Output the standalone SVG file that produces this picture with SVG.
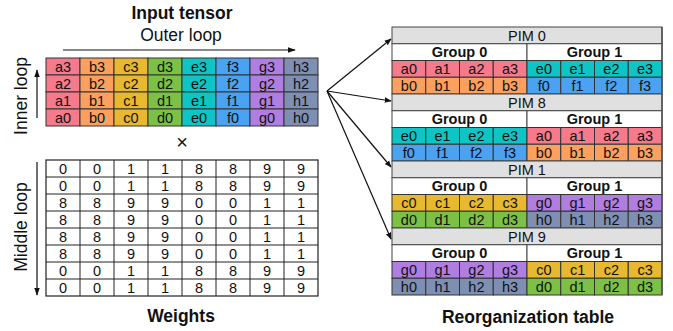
<svg xmlns="http://www.w3.org/2000/svg" width="673" height="331" viewBox="0 0 673 331">
<defs>
<style>
text{font-family:"Liberation Sans",Arial,sans-serif;fill:#111;text-anchor:middle}
.c{font-size:14.5px}
.t{font-size:17.5px;font-weight:bold}
.l{font-size:17.5px}
.g{font-size:14.5px;font-weight:bold}
.cell{stroke:#333;stroke-width:1}
.A{fill:#f47a8c}.B{fill:#fba05e}.C{fill:#e8b830}.D{fill:#7cc145}.E{fill:#0ec4c4}.F{fill:#4aa2f0}.G{fill:#b07ee0}.H{fill:#7f8fb2}
.hd{fill:#e0e0e0;stroke:#444;stroke-width:1}
.wh{fill:#fff;stroke:#444;stroke-width:1}
.ln{stroke:#111;stroke-width:1.2;fill:none}
</style>
<marker id="ah" viewBox="0 0 10 10" refX="9" refY="5" markerWidth="7" markerHeight="7" orient="auto" markerUnits="userSpaceOnUse"><path d="M0,1 L10,5 L0,9 Z" fill="#111"/></marker>
<marker id="ah2" viewBox="0 0 10 10" refX="9" refY="5" markerWidth="8" markerHeight="8" orient="auto" markerUnits="userSpaceOnUse"><path d="M0,1.5 L10,5 L0,8.5 Z" fill="#111"/></marker>
</defs>
<rect width="673" height="331" fill="#fff"/>

<g id="labels">
<text class="t" x="182" y="19">Input tensor</text>
<text class="l" x="181" y="41">Outer loop</text>
<text class="l" transform="translate(27,96) rotate(-90)">Inner loop</text>
<text class="l" transform="translate(27,227) rotate(-90)">Middle loop</text>
<text x="182" y="149" style="font-size:20px">×</text>
<text class="t" x="181" y="322">Weights</text>
<text class="t" x="528" y="323">Reorganization table</text>
</g>

<g id="input-tensor">
<g class="cell">
<rect class="A" x="46" y="58" width="34" height="17"/><rect class="B" x="80" y="58" width="34" height="17"/><rect class="C" x="114" y="58" width="34" height="17"/><rect class="D" x="148" y="58" width="34" height="17"/><rect class="E" x="182" y="58" width="34" height="17"/><rect class="F" x="216" y="58" width="34" height="17"/><rect class="G" x="250" y="58" width="34" height="17"/><rect class="H" x="284" y="58" width="34" height="17"/>
<rect class="A" x="46" y="75" width="34" height="17"/><rect class="B" x="80" y="75" width="34" height="17"/><rect class="C" x="114" y="75" width="34" height="17"/><rect class="D" x="148" y="75" width="34" height="17"/><rect class="E" x="182" y="75" width="34" height="17"/><rect class="F" x="216" y="75" width="34" height="17"/><rect class="G" x="250" y="75" width="34" height="17"/><rect class="H" x="284" y="75" width="34" height="17"/>
<rect class="A" x="46" y="92" width="34" height="17"/><rect class="B" x="80" y="92" width="34" height="17"/><rect class="C" x="114" y="92" width="34" height="17"/><rect class="D" x="148" y="92" width="34" height="17"/><rect class="E" x="182" y="92" width="34" height="17"/><rect class="F" x="216" y="92" width="34" height="17"/><rect class="G" x="250" y="92" width="34" height="17"/><rect class="H" x="284" y="92" width="34" height="17"/>
<rect class="A" x="46" y="109" width="34" height="17"/><rect class="B" x="80" y="109" width="34" height="17"/><rect class="C" x="114" y="109" width="34" height="17"/><rect class="D" x="148" y="109" width="34" height="17"/><rect class="E" x="182" y="109" width="34" height="17"/><rect class="F" x="216" y="109" width="34" height="17"/><rect class="G" x="250" y="109" width="34" height="17"/><rect class="H" x="284" y="109" width="34" height="17"/>
</g>
<g class="c">
<text x="63" y="71.5">a3</text><text x="97" y="71.5">b3</text><text x="131" y="71.5">c3</text><text x="165" y="71.5">d3</text><text x="199" y="71.5">e3</text><text x="233" y="71.5">f3</text><text x="267" y="71.5">g3</text><text x="301" y="71.5">h3</text>
<text x="63" y="88.5">a2</text><text x="97" y="88.5">b2</text><text x="131" y="88.5">c2</text><text x="165" y="88.5">d2</text><text x="199" y="88.5">e2</text><text x="233" y="88.5">f2</text><text x="267" y="88.5">g2</text><text x="301" y="88.5">h2</text>
<text x="63" y="105.5">a1</text><text x="97" y="105.5">b1</text><text x="131" y="105.5">c1</text><text x="165" y="105.5">d1</text><text x="199" y="105.5">e1</text><text x="233" y="105.5">f1</text><text x="267" y="105.5">g1</text><text x="301" y="105.5">h1</text>
<text x="63" y="122.5">a0</text><text x="97" y="122.5">b0</text><text x="131" y="122.5">c0</text><text x="165" y="122.5">d0</text><text x="199" y="122.5">e0</text><text x="233" y="122.5">f0</text><text x="267" y="122.5">g0</text><text x="301" y="122.5">h0</text>
</g>
</g>

<g id="weights">
<rect x="46" y="160" width="272" height="136" fill="#fff" stroke="#222" stroke-width="1.2"/>
<g stroke="#222" stroke-width="1">
<path d="M80,160V296M114,160V296M148,160V296M182,160V296M216,160V296M250,160V296M284,160V296"/>
<path d="M46,177H318M46,194H318M46,211H318M46,228H318M46,245H318M46,262H318M46,279H318"/>
</g>
<g class="c">
<text x="63" y="173.5">0</text><text x="97" y="173.5">0</text><text x="131" y="173.5">1</text><text x="165" y="173.5">1</text><text x="199" y="173.5">8</text><text x="233" y="173.5">8</text><text x="267" y="173.5">9</text><text x="301" y="173.5">9</text>
<text x="63" y="190.5">0</text><text x="97" y="190.5">0</text><text x="131" y="190.5">1</text><text x="165" y="190.5">1</text><text x="199" y="190.5">8</text><text x="233" y="190.5">8</text><text x="267" y="190.5">9</text><text x="301" y="190.5">9</text>
<text x="63" y="207.5">8</text><text x="97" y="207.5">8</text><text x="131" y="207.5">9</text><text x="165" y="207.5">9</text><text x="199" y="207.5">0</text><text x="233" y="207.5">0</text><text x="267" y="207.5">1</text><text x="301" y="207.5">1</text>
<text x="63" y="224.5">8</text><text x="97" y="224.5">8</text><text x="131" y="224.5">9</text><text x="165" y="224.5">9</text><text x="199" y="224.5">0</text><text x="233" y="224.5">0</text><text x="267" y="224.5">1</text><text x="301" y="224.5">1</text>
<text x="63" y="241.5">8</text><text x="97" y="241.5">8</text><text x="131" y="241.5">9</text><text x="165" y="241.5">9</text><text x="199" y="241.5">0</text><text x="233" y="241.5">0</text><text x="267" y="241.5">1</text><text x="301" y="241.5">1</text>
<text x="63" y="258.5">8</text><text x="97" y="258.5">8</text><text x="131" y="258.5">9</text><text x="165" y="258.5">9</text><text x="199" y="258.5">0</text><text x="233" y="258.5">0</text><text x="267" y="258.5">1</text><text x="301" y="258.5">1</text>
<text x="63" y="275.5">0</text><text x="97" y="275.5">0</text><text x="131" y="275.5">1</text><text x="165" y="275.5">1</text><text x="199" y="275.5">8</text><text x="233" y="275.5">8</text><text x="267" y="275.5">9</text><text x="301" y="275.5">9</text>
<text x="63" y="292.5">0</text><text x="97" y="292.5">0</text><text x="131" y="292.5">1</text><text x="165" y="292.5">1</text><text x="199" y="292.5">8</text><text x="233" y="292.5">8</text><text x="267" y="292.5">9</text><text x="301" y="292.5">9</text>
</g>
</g>

<g id="pim0" transform="translate(392,27)">
<rect class="hd" x="0" y="0" width="270" height="16.75"/>
<text class="c" x="135" y="13.5">PIM 0</text>
<rect class="wh" x="0" y="16.75" width="135" height="16.75"/><rect class="wh" x="135" y="16.75" width="135" height="16.75"/>
<text class="g" x="67.5" y="30">Group 0</text><text class="g" x="202.5" y="30">Group 1</text>
<g class="cell">
<rect class="A" x="0" y="33.5" width="33.75" height="16.75"/><rect class="A" x="33.75" y="33.5" width="33.75" height="16.75"/><rect class="A" x="67.5" y="33.5" width="33.75" height="16.75"/><rect class="A" x="101.25" y="33.5" width="33.75" height="16.75"/>
<rect class="E" x="135" y="33.5" width="33.75" height="16.75"/><rect class="E" x="168.75" y="33.5" width="33.75" height="16.75"/><rect class="E" x="202.5" y="33.5" width="33.75" height="16.75"/><rect class="E" x="236.25" y="33.5" width="33.75" height="16.75"/>
<rect class="B" x="0" y="50.25" width="33.75" height="16.75"/><rect class="B" x="33.75" y="50.25" width="33.75" height="16.75"/><rect class="B" x="67.5" y="50.25" width="33.75" height="16.75"/><rect class="B" x="101.25" y="50.25" width="33.75" height="16.75"/>
<rect class="F" x="135" y="50.25" width="33.75" height="16.75"/><rect class="F" x="168.75" y="50.25" width="33.75" height="16.75"/><rect class="F" x="202.5" y="50.25" width="33.75" height="16.75"/><rect class="F" x="236.25" y="50.25" width="33.75" height="16.75"/>
</g>
<g class="c">
<text x="16.9" y="47">a0</text><text x="50.6" y="47">a1</text><text x="84.4" y="47">a2</text><text x="118.1" y="47">a3</text><text x="151.9" y="47">e0</text><text x="185.6" y="47">e1</text><text x="219.4" y="47">e2</text><text x="253.1" y="47">e3</text>
<text x="16.9" y="63.75">b0</text><text x="50.6" y="63.75">b1</text><text x="84.4" y="63.75">b2</text><text x="118.1" y="63.75">b3</text><text x="151.9" y="63.75">f0</text><text x="185.6" y="63.75">f1</text><text x="219.4" y="63.75">f2</text><text x="253.1" y="63.75">f3</text>
</g>
</g>

<g id="pim8" transform="translate(392,94)">
<rect class="hd" x="0" y="0" width="270" height="16.75"/>
<text class="c" x="135" y="13.5">PIM 8</text>
<rect class="wh" x="0" y="16.75" width="135" height="16.75"/><rect class="wh" x="135" y="16.75" width="135" height="16.75"/>
<text class="g" x="67.5" y="30">Group 0</text><text class="g" x="202.5" y="30">Group 1</text>
<g class="cell">
<rect class="E" x="0" y="33.5" width="33.75" height="16.75"/><rect class="E" x="33.75" y="33.5" width="33.75" height="16.75"/><rect class="E" x="67.5" y="33.5" width="33.75" height="16.75"/><rect class="E" x="101.25" y="33.5" width="33.75" height="16.75"/>
<rect class="A" x="135" y="33.5" width="33.75" height="16.75"/><rect class="A" x="168.75" y="33.5" width="33.75" height="16.75"/><rect class="A" x="202.5" y="33.5" width="33.75" height="16.75"/><rect class="A" x="236.25" y="33.5" width="33.75" height="16.75"/>
<rect class="F" x="0" y="50.25" width="33.75" height="16.75"/><rect class="F" x="33.75" y="50.25" width="33.75" height="16.75"/><rect class="F" x="67.5" y="50.25" width="33.75" height="16.75"/><rect class="F" x="101.25" y="50.25" width="33.75" height="16.75"/>
<rect class="B" x="135" y="50.25" width="33.75" height="16.75"/><rect class="B" x="168.75" y="50.25" width="33.75" height="16.75"/><rect class="B" x="202.5" y="50.25" width="33.75" height="16.75"/><rect class="B" x="236.25" y="50.25" width="33.75" height="16.75"/>
</g>
<g class="c">
<text x="16.9" y="47">e0</text><text x="50.6" y="47">e1</text><text x="84.4" y="47">e2</text><text x="118.1" y="47">e3</text><text x="151.9" y="47">a0</text><text x="185.6" y="47">a1</text><text x="219.4" y="47">a2</text><text x="253.1" y="47">a3</text>
<text x="16.9" y="63.75">f0</text><text x="50.6" y="63.75">f1</text><text x="84.4" y="63.75">f2</text><text x="118.1" y="63.75">f3</text><text x="151.9" y="63.75">b0</text><text x="185.6" y="63.75">b1</text><text x="219.4" y="63.75">b2</text><text x="253.1" y="63.75">b3</text>
</g>
</g>

<g id="pim1" transform="translate(392,161)">
<rect class="hd" x="0" y="0" width="270" height="16.75"/>
<text class="c" x="135" y="13.5">PIM 1</text>
<rect class="wh" x="0" y="16.75" width="135" height="16.75"/><rect class="wh" x="135" y="16.75" width="135" height="16.75"/>
<text class="g" x="67.5" y="30">Group 0</text><text class="g" x="202.5" y="30">Group 1</text>
<g class="cell">
<rect class="C" x="0" y="33.5" width="33.75" height="16.75"/><rect class="C" x="33.75" y="33.5" width="33.75" height="16.75"/><rect class="C" x="67.5" y="33.5" width="33.75" height="16.75"/><rect class="C" x="101.25" y="33.5" width="33.75" height="16.75"/>
<rect class="G" x="135" y="33.5" width="33.75" height="16.75"/><rect class="G" x="168.75" y="33.5" width="33.75" height="16.75"/><rect class="G" x="202.5" y="33.5" width="33.75" height="16.75"/><rect class="G" x="236.25" y="33.5" width="33.75" height="16.75"/>
<rect class="D" x="0" y="50.25" width="33.75" height="16.75"/><rect class="D" x="33.75" y="50.25" width="33.75" height="16.75"/><rect class="D" x="67.5" y="50.25" width="33.75" height="16.75"/><rect class="D" x="101.25" y="50.25" width="33.75" height="16.75"/>
<rect class="H" x="135" y="50.25" width="33.75" height="16.75"/><rect class="H" x="168.75" y="50.25" width="33.75" height="16.75"/><rect class="H" x="202.5" y="50.25" width="33.75" height="16.75"/><rect class="H" x="236.25" y="50.25" width="33.75" height="16.75"/>
</g>
<g class="c">
<text x="16.9" y="47">c0</text><text x="50.6" y="47">c1</text><text x="84.4" y="47">c2</text><text x="118.1" y="47">c3</text><text x="151.9" y="47">g0</text><text x="185.6" y="47">g1</text><text x="219.4" y="47">g2</text><text x="253.1" y="47">g3</text>
<text x="16.9" y="63.75">d0</text><text x="50.6" y="63.75">d1</text><text x="84.4" y="63.75">d2</text><text x="118.1" y="63.75">d3</text><text x="151.9" y="63.75">h0</text><text x="185.6" y="63.75">h1</text><text x="219.4" y="63.75">h2</text><text x="253.1" y="63.75">h3</text>
</g>
</g>

<g id="pim9" transform="translate(392,228)">
<rect class="hd" x="0" y="0" width="270" height="16.75"/>
<text class="c" x="135" y="13.5">PIM 9</text>
<rect class="wh" x="0" y="16.75" width="135" height="16.75"/><rect class="wh" x="135" y="16.75" width="135" height="16.75"/>
<text class="g" x="67.5" y="30">Group 0</text><text class="g" x="202.5" y="30">Group 1</text>
<g class="cell">
<rect class="G" x="0" y="33.5" width="33.75" height="16.75"/><rect class="G" x="33.75" y="33.5" width="33.75" height="16.75"/><rect class="G" x="67.5" y="33.5" width="33.75" height="16.75"/><rect class="G" x="101.25" y="33.5" width="33.75" height="16.75"/>
<rect class="C" x="135" y="33.5" width="33.75" height="16.75"/><rect class="C" x="168.75" y="33.5" width="33.75" height="16.75"/><rect class="C" x="202.5" y="33.5" width="33.75" height="16.75"/><rect class="C" x="236.25" y="33.5" width="33.75" height="16.75"/>
<rect class="H" x="0" y="50.25" width="33.75" height="16.75"/><rect class="H" x="33.75" y="50.25" width="33.75" height="16.75"/><rect class="H" x="67.5" y="50.25" width="33.75" height="16.75"/><rect class="H" x="101.25" y="50.25" width="33.75" height="16.75"/>
<rect class="D" x="135" y="50.25" width="33.75" height="16.75"/><rect class="D" x="168.75" y="50.25" width="33.75" height="16.75"/><rect class="D" x="202.5" y="50.25" width="33.75" height="16.75"/><rect class="D" x="236.25" y="50.25" width="33.75" height="16.75"/>
</g>
<g class="c">
<text x="16.9" y="47">g0</text><text x="50.6" y="47">g1</text><text x="84.4" y="47">g2</text><text x="118.1" y="47">g3</text><text x="151.9" y="47">c0</text><text x="185.6" y="47">c1</text><text x="219.4" y="47">c2</text><text x="253.1" y="47">c3</text>
<text x="16.9" y="63.75">h0</text><text x="50.6" y="63.75">h1</text><text x="84.4" y="63.75">h2</text><text x="118.1" y="63.75">h3</text><text x="151.9" y="63.75">d0</text><text x="185.6" y="63.75">d1</text><text x="219.4" y="63.75">d2</text><text x="253.1" y="63.75">d3</text>
</g>
</g>
<line x1="662" y1="27" x2="662" y2="295" stroke="#555" stroke-width="1.6"/>

<g id="connectors">
<line class="ln" x1="63" y1="50" x2="295" y2="50" marker-end="url(#ah2)"/>
<line class="ln" x1="37" y1="118" x2="37" y2="70" marker-end="url(#ah2)"/>
<line class="ln" x1="37" y1="162" x2="37" y2="295" marker-end="url(#ah2)"/>
<line class="ln" x1="327" y1="91" x2="391" y2="39" marker-end="url(#ah)"/>
<line class="ln" x1="327" y1="91" x2="391" y2="101" marker-end="url(#ah)"/>
<line class="ln" x1="327" y1="91" x2="391" y2="167" marker-end="url(#ah)"/>
<line class="ln" x1="327" y1="91" x2="391" y2="239" marker-end="url(#ah)"/>
</g>
</svg>
